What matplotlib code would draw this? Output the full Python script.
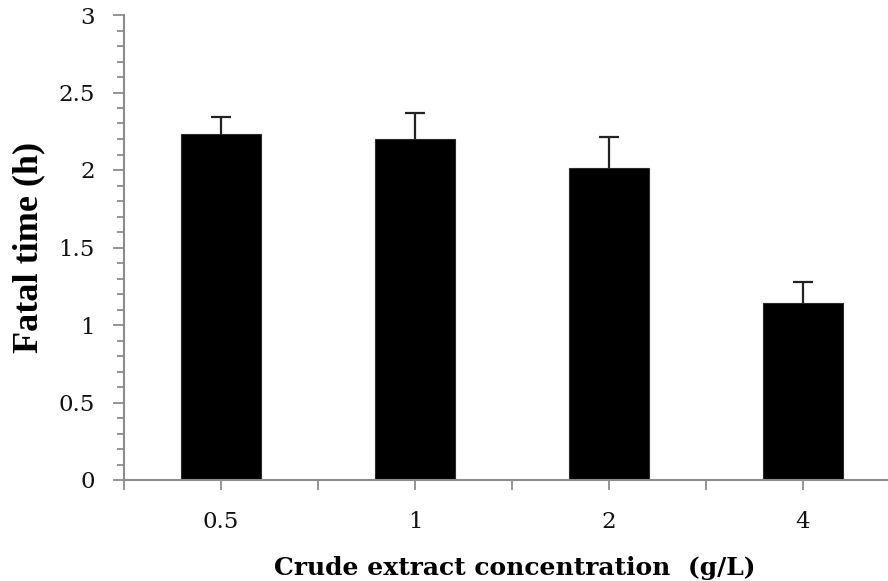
import numpy as np
import matplotlib
matplotlib.use("Agg")
import matplotlib.pyplot as plt
from matplotlib.ticker import MultipleLocator, FixedLocator, FormatStrFormatter

# Data
concentrations = ["0.5", "1", "2", "4"]
fatal_time = [2.23, 2.20, 2.01, 1.14]
fatal_err = [0.11, 0.17, 0.20, 0.14]

W, H = 888, 581
fig = plt.figure(figsize=(W / 100, H / 100), dpi=100)

# axes placed in pixel coords (y-axis at x=124, zero line at y=480)
ax = fig.add_axes([124 / W, (H - 480) / H, (W - 124) / W, (480 - 15) / H])

x = np.arange(len(concentrations))
ax.bar(x, fatal_time, width=0.41, color="black", edgecolor="#2a2a2a", linewidth=0.8, zorder=2)
# only the upper half of the error bar, as in the original
_, caps, _ = ax.errorbar(x, fatal_time, yerr=[np.zeros(len(fatal_err)), fatal_err], fmt="none",
                         ecolor="#222222", elinewidth=1.6, capsize=7.5, capthick=1.6, zorder=3)
caps[0].set_visible(False)

# axis limits: category width 194 px, right edge of the image cuts the last one
ax.set_xlim(-0.5, -0.5 + (W - 124) / 194)
ax.set_ylim(0, 3)

# Spines
for s in ["top", "right"]:
    ax.spines[s].set_visible(False)
for s in ["left", "bottom"]:
    ax.spines[s].set_color("#8c8c8c")
    ax.spines[s].set_linewidth(1.5)

# Ticks
ax.yaxis.set_major_locator(MultipleLocator(0.5))
ax.yaxis.set_minor_locator(MultipleLocator(0.1))
ax.yaxis.set_major_formatter(FormatStrFormatter("%g"))
ax.set_xticks(x)
ax.set_xticklabels(concentrations)
ax.xaxis.set_minor_locator(FixedLocator(np.arange(-0.5, 4.0, 1.0)))

ax.tick_params(axis="y", which="major", direction="out", length=8, width=1.3,
               color="#8c8c8c", pad=13, labelsize=16.5)
ax.tick_params(axis="y", which="minor", direction="out", length=5, width=1.3, color="#8c8c8c")
ax.tick_params(axis="x", which="major", direction="out", length=7.5, width=1.3,
               color="#8c8c8c", pad=15, labelsize=16.5)
ax.tick_params(axis="x", which="minor", direction="out", length=7.5, width=1.3, color="#8c8c8c")
for lab in ax.get_xticklabels() + ax.get_yticklabels():
    lab.set_fontfamily("DejaVu Serif")
    lab.set_color("#111111")

ax.set_ylabel("Fatal time (h)", fontfamily="Liberation Serif", fontweight="bold", fontsize=26)
ax.yaxis.set_label_coords(-(124 - 29) / (W - 124), 0.5)
ax.yaxis.label.set_va("center")
ax.set_xlabel("Crude extract concentration  (g/L)", fontfamily="DejaVu Serif",
              fontweight="bold", fontsize=18)
ax.xaxis.set_label_coords((515 - 124) / (W - 124), -(575 - 480) / (480 - 15))
ax.xaxis.label.set_va("baseline")

fig.savefig("out.png", dpi=100)
